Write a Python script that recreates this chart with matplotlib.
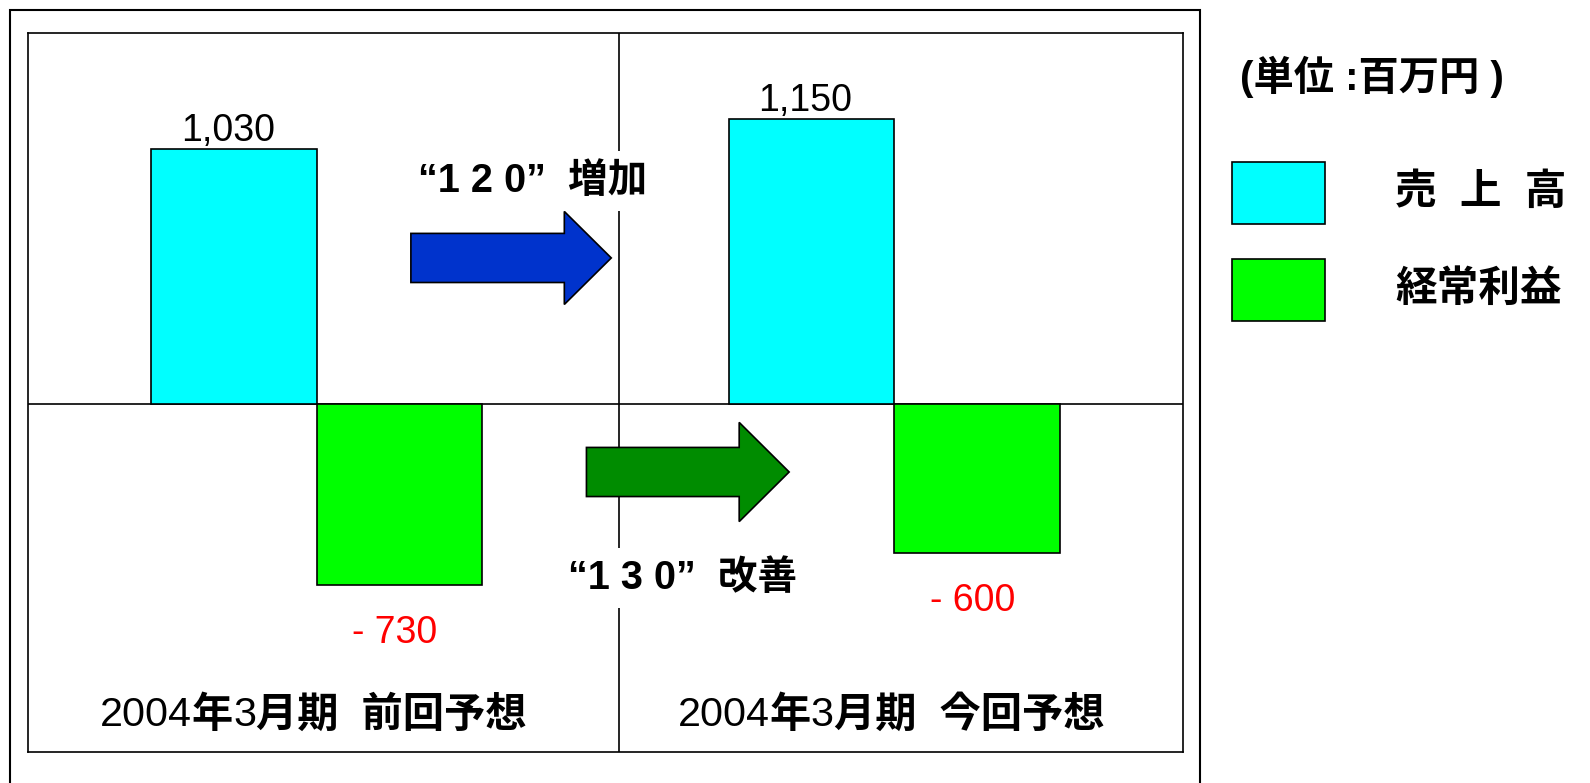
import matplotlib.pyplot as plt
from matplotlib.patches import Rectangle, FancyArrow
from matplotlib.transforms import offset_copy

plt.rcParams['font.family'] = ['Liberation Sans', 'Noto Sans CJK JP', 'DejaVu Sans']

categories = [
    [("2004", "normal"), ("年", "bold"), ("3", "normal"), ("月期  前回予想", "bold")],
    [("2004", "normal"), ("年", "bold"), ("3", "normal"), ("月期  今回予想", "bold")],
]
sales = [1030, 1150]
profit = [-730, -600]
sales_labels = ["1,030", "1,150"]
profit_labels = ["- 730", "- 600"]
series_names = ["売  上  高", "経常利益"]
unit_label = "(単位 :百万円 )"
sales_note = "“1 2 0”  増加"
profit_note = "“1 3 0”  改善"

W, H = 1590, 783
fig = plt.figure(figsize=(W / 100, H / 100), dpi=100)

def fx(px):
    return px / W

def fy(py):
    return 1 - py / H

# outer frame (runs off the bottom edge)
fig.patches.append(Rectangle((fx(10), fy(800)), fx(1200) - fx(10), fy(10) - fy(800),
                             transform=fig.transFigure, fill=False, lw=1.5, ec='black'))

ax = fig.add_axes([fx(28), fy(752), fx(1183) - fx(28), fy(33) - fy(752)])
ax.set_xlim(-0.5, 1.5)
ax.set_ylim(-1403, 1496)
ax.set_xticks([])
ax.set_yticks([])
for s in ax.spines.values():
    s.set_linewidth(1.2)

w = 0.287
x = [0, 1]
ax.bar([i - w / 2 for i in x], sales, w, color='#00FFFF', edgecolor='black', lw=1.2, zorder=3)
ax.bar([i + w / 2 for i in x], profit, w, color='#00FF00', edgecolor='black', lw=1.2, zorder=3)
ax.axhline(0, color='black', lw=1.2, zorder=2)
ax.axvline(0.524, color='black', lw=1.2, zorder=1)

renderer = fig.canvas.get_renderer()


def mixed_label(xc, yc, parts, size):
    # pieces with different weights, laid out side by side and centred on xc
    texts = [ax.text(xc, yc, s, fontweight=wt, fontsize=size, ha='left', va='center')
             for s, wt in parts]
    widths = [t.get_window_extent(renderer).width for t in texts]
    dx = -sum(widths) / 2
    for t, wd in zip(texts, widths):
        t.set_transform(offset_copy(ax.transData, fig=fig, x=dx, y=0, units='dots'))
        dx += wd


for i in x:
    ax.text(i - w / 2 - 0.01, sales[i] + 30, sales_labels[i], ha='center', va='baseline',
            fontsize=27)
    ax.text(i + w / 2 - 0.008, profit[i] - 195, profit_labels[i], ha='center', va='center',
            fontsize=27, color='red')
    mixed_label(i - 0.006, -1255, categories[i], 29.7)

# change arrows
ax.add_patch(FancyArrow(0.163, 589, 0.347, 0, width=198, head_width=375, head_length=0.0813,
                        length_includes_head=True, fc='#0033CC', ec='black', lw=1.2, zorder=4))
ax.add_patch(FancyArrow(0.467, -274, 0.351, 0, width=198, head_width=400, head_length=0.0865,
                        length_includes_head=True, fc='#008C00', ec='black', lw=1.2, zorder=4))
ax.text(0.374, 900, sales_note, ha='center', va='center', fontsize=28.5, fontweight='bold',
        bbox=dict(fc='white', ec='none', pad=8), zorder=5)
ax.text(0.634, -700, profit_note, ha='center', va='center', fontsize=28.5, fontweight='bold',
        bbox=dict(fc='white', ec='none', pad=8), zorder=5)

# legend on the right
fig.text(fx(1240), fy(77), unit_label, ha='left', va='center', fontsize=29, fontweight='bold')
fig.patches.append(Rectangle((fx(1232), fy(224)), fx(1325) - fx(1232), fy(162) - fy(224),
                             transform=fig.transFigure, fc='#00FFFF', ec='black', lw=1.2))
fig.patches.append(Rectangle((fx(1232), fy(321)), fx(1325) - fx(1232), fy(259) - fy(321),
                             transform=fig.transFigure, fc='#00FF00', ec='black', lw=1.2))
fig.text(fx(1395), fy(193), series_names[0], ha='left', va='center', fontsize=30, fontweight='bold')
fig.text(fx(1395), fy(290), series_names[1], ha='left', va='center', fontsize=30, fontweight='bold')

fig.savefig("out.png", dpi=100)
